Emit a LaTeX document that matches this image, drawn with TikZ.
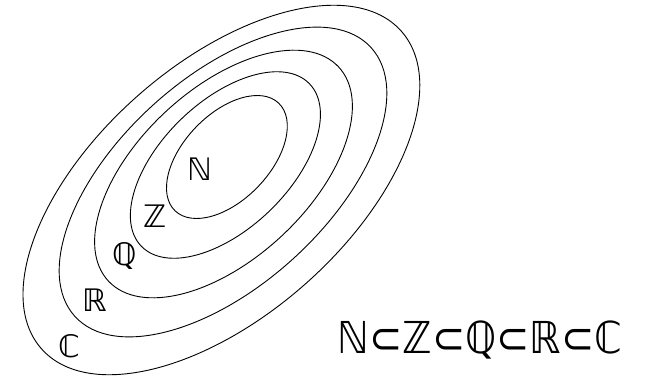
\documentclass[tikz,border=0pt]{standalone}
\usepackage{fontspec}
\newfontfamily\dsfont{DejaVu Sans}
\begin{document}
\begin{tikzpicture}[x=1pt,y=1pt,
  setline/.style={draw=black, line width=0.9pt},
  lab/.style={font=\dsfont\fontsize{31}{31}\selectfont, inner sep=0pt},
  chain/.style={font=\dsfont\fontsize{44}{44}\selectfont, inner sep=0pt}]
\useasboundingbox (0,0) rectangle (645,378);
\draw[setline, rotate around={46:(226.9,221)}] (226.9,221) ellipse [x radius=74.7, y radius=43];
\draw[setline, rotate around={44:(225.4,213)}] (225.4,213) ellipse [x radius=116.9, y radius=63.7];
\draw[setline, rotate around={42.9:(223.5,204)}] (223.5,204) ellipse [x radius=157.2, y radius=85];
\draw[setline, rotate around={42.2:(223,196)}] (223,196) ellipse [x radius=200, y radius=104];
\draw[setline, rotate around={41.4:(221.4,188)}] (221.4,188) ellipse [x radius=240, y radius=126];
\node[lab] (N) at (200,209) {ℕ};
\node[lab] (Z) at (155,162) {ℤ};
\node[lab] (Q) at (125,122) {ℚ};
\node[lab] (R) at (95,78) {ℝ};
\node[lab] (C) at (69,32) {ℂ};
\node[chain] (chainlabel) at (480,38) {\scalebox{0.9}[1]{ℕ⊂ℤ⊂ℚ⊂ℝ⊂ℂ}};
\end{tikzpicture}
\end{document}
